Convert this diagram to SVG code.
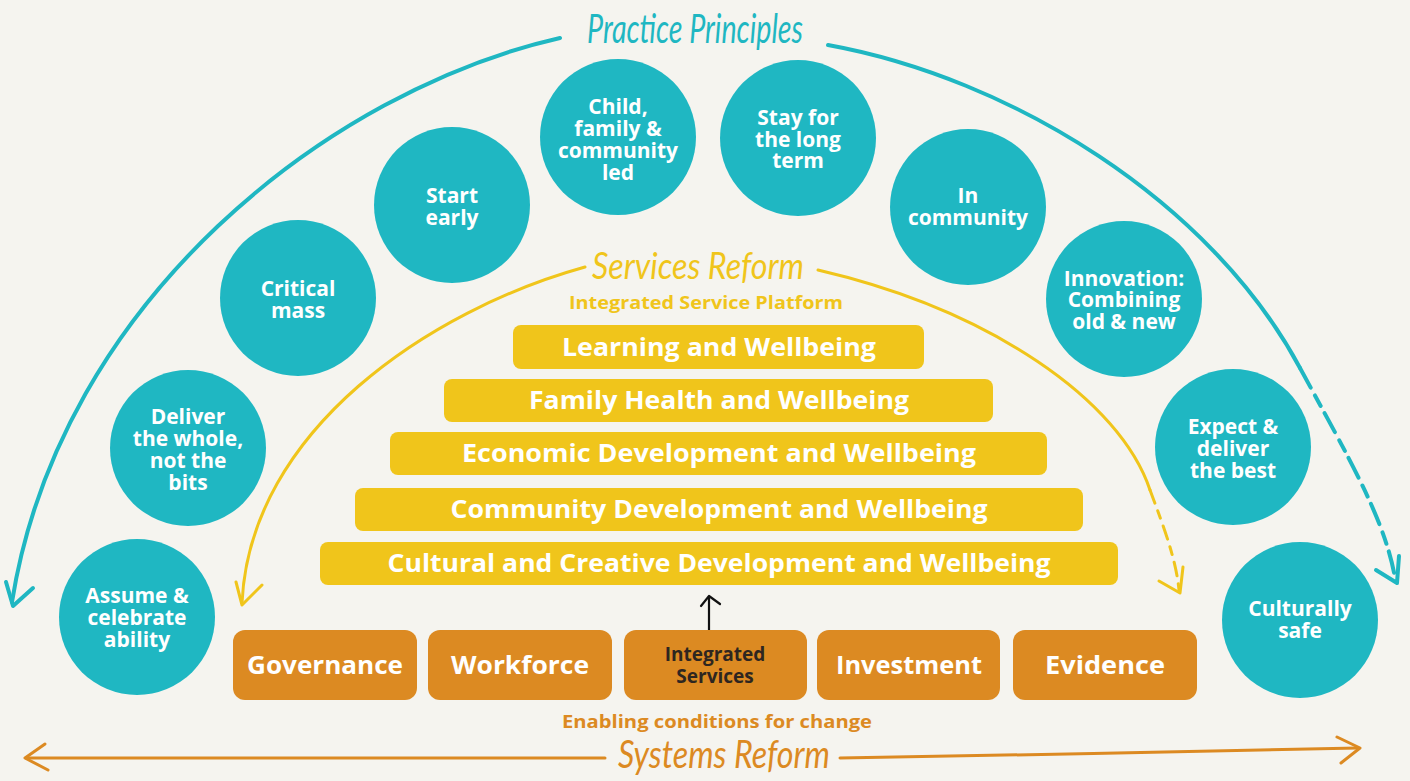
<svg xmlns="http://www.w3.org/2000/svg" width="1410" height="781" viewBox="0 0 1410 781">
  <defs>
    <style>
      .bg { fill: #F5F4EF; }
      .circ { fill: #1FB7C2; }
      .ctext { font-family: "Open Sans", "Liberation Sans", sans-serif; font-weight: 700; font-size: 21px; fill: #FFFFFF; text-anchor: middle; }
      .bar { fill: #F0C51B; }
      .btext { font-family: "Open Sans", "Liberation Sans", sans-serif; font-weight: 700; font-size: 25px; fill: #FFFFFF; text-anchor: middle; }
      .box { fill: #DC8A22; }
      .otext { font-family: "Open Sans", "Liberation Sans", sans-serif; font-weight: 700; font-size: 25px; fill: #FFFFFF; text-anchor: middle; }
      .dtext { font-family: "Open Sans", "Liberation Sans", sans-serif; font-weight: 700; font-size: 19px; fill: #2E2620; text-anchor: middle; }
      .hand { font-family: "Lato", "Open Sans", sans-serif; font-style: italic; font-weight: 400; }
      .sub { font-family: "Open Sans", "Liberation Sans", sans-serif; font-weight: 700; font-size: 18px; text-anchor: middle; }
      .teal { fill: none; stroke: #1FB7C2; stroke-width: 4; stroke-linecap: round; stroke-linejoin: round; }
      .yel { fill: none; stroke: #F0C51B; stroke-width: 3; stroke-linecap: round; stroke-linejoin: round; }
      .org { fill: none; stroke: #DC8A22; stroke-width: 3; stroke-linecap: round; stroke-linejoin: round; }
    </style>
  </defs>

  <rect class="bg" x="0" y="0" width="1410" height="781"/>

  <!-- connectors: hand-drawn arcs and arrows -->
  <g id="connectors">
    <!-- Practice Principles arcs -->
    <path class="teal" d="M560,38 C330,90 60,300 12,602"/>
    <path class="teal" d="M6,582 L13,606 L33,588"/>
    <path class="teal" d="M828,45 C1010,78 1210,200 1300,368"/>
    <path class="teal" d="M1300,368 C1350,460 1385,520 1395,578" stroke-dasharray="22 9 12 8"/>
    <path class="teal" d="M1399,556 L1397,583 L1376,570"/>

    <!-- Services Reform arcs -->
    <path class="yel" d="M585,267 C430,310 250,430 242,603"/>
    <path class="yel" d="M236,582 L242,605 L262,585"/>
    <path class="yel" d="M818,270 C990,310 1120,400 1150,490"/>
    <path class="yel" d="M1150,490 C1165,530 1176,560 1179,590" stroke-dasharray="14 8 8 8"/>
    <path class="yel" d="M1183,567 L1180,593 L1159,581"/>

    <!-- Systems Reform double arrow -->
    <path class="org" d="M26,758 L605,758"/>
    <path class="org" d="M45,744 L25,758 L48,770"/>
    <path class="org" d="M840,758 C1000,756 1200,751 1358,748"/>
    <path class="org" d="M1337,737 L1360,748 L1341,763"/>

    <!-- arrow from Integrated Services to the platform -->
    <path d="M709,636 L709,598" fill="none" stroke="#111111" stroke-width="2.2" stroke-linecap="round"/>
    <path d="M701,606 L709,596 L720,604" fill="none" stroke="#111111" stroke-width="2.2" stroke-linecap="round" stroke-linejoin="round"/>
  </g>

  <!-- headings -->
  <g id="titles">
    <text class="hand" x="695" y="43" font-size="40" fill="#1FB7C2" text-anchor="middle" textLength="216" lengthAdjust="spacingAndGlyphs">Practice Principles</text>
    <text class="hand" x="698" y="279" font-size="36" fill="#F0C51B" text-anchor="middle" textLength="212" lengthAdjust="spacingAndGlyphs">Services Reform</text>
    <text class="sub" x="706" y="309" fill="#F0C51B" textLength="274" lengthAdjust="spacingAndGlyphs">Integrated Service Platform</text>
    <text class="sub" x="717" y="728" fill="#DC8A22" textLength="310" lengthAdjust="spacingAndGlyphs">Enabling conditions for change</text>
    <text class="hand" x="724" y="768" font-size="38" fill="#DC8A22" text-anchor="middle" textLength="212" lengthAdjust="spacingAndGlyphs">Systems Reform</text>
  </g>

  <!-- practice principle nodes -->
  <g id="p-ability">
    <circle class="circ" cx="137" cy="617" r="78"/>
    <text class="ctext" x="137" y="603">Assume &amp;</text>
    <text class="ctext" x="137" y="625">celebrate</text>
    <text class="ctext" x="137" y="647">ability</text>
  </g>
  <g id="p-whole">
    <circle class="circ" cx="188" cy="448" r="78"/>
    <text class="ctext" x="188" y="424">Deliver</text>
    <text class="ctext" x="188" y="446">the whole,</text>
    <text class="ctext" x="188" y="468">not the</text>
    <text class="ctext" x="188" y="490">bits</text>
  </g>
  <g id="p-mass">
    <circle class="circ" cx="298" cy="298" r="78"/>
    <text class="ctext" x="298" y="296">Critical</text>
    <text class="ctext" x="298" y="318">mass</text>
  </g>
  <g id="p-early">
    <circle class="circ" cx="452" cy="205" r="78"/>
    <text class="ctext" x="452" y="203">Start</text>
    <text class="ctext" x="452" y="225">early</text>
  </g>
  <g id="p-led">
    <circle class="circ" cx="618" cy="137" r="78"/>
    <text class="ctext" x="618" y="114">Child,</text>
    <text class="ctext" x="618" y="136">family &amp;</text>
    <text class="ctext" x="618" y="158">community</text>
    <text class="ctext" x="618" y="180">led</text>
  </g>
  <g id="p-long">
    <circle class="circ" cx="798" cy="138" r="78"/>
    <text class="ctext" x="798" y="125">Stay for</text>
    <text class="ctext" x="798" y="147">the long</text>
    <text class="ctext" x="798" y="168">term</text>
  </g>
  <g id="p-community">
    <circle class="circ" cx="968" cy="207" r="78"/>
    <text class="ctext" x="968" y="203">In</text>
    <text class="ctext" x="968" y="225">community</text>
  </g>
  <g id="p-innovation">
    <circle class="circ" cx="1124" cy="299" r="78"/>
    <text class="ctext" x="1124" y="286">Innovation:</text>
    <text class="ctext" x="1124" y="307">Combining</text>
    <text class="ctext" x="1124" y="329">old &amp; new</text>
  </g>
  <g id="p-best">
    <circle class="circ" cx="1233" cy="447" r="78"/>
    <text class="ctext" x="1233" y="434">Expect &amp;</text>
    <text class="ctext" x="1233" y="456">deliver</text>
    <text class="ctext" x="1233" y="478">the best</text>
  </g>
  <g id="p-safe">
    <circle class="circ" cx="1300" cy="620" r="78"/>
    <text class="ctext" x="1300" y="616">Culturally</text>
    <text class="ctext" x="1300" y="638">safe</text>
  </g>

  <!-- integrated service platform -->
  <g id="s-learning">
    <rect class="bar" x="513" y="325" width="411" height="44" rx="8"/>
    <text class="btext" x="719" y="356" textLength="314" lengthAdjust="spacingAndGlyphs">Learning and Wellbeing</text>
  </g>
  <g id="s-family">
    <rect class="bar" x="444" y="379" width="549" height="43" rx="8"/>
    <text class="btext" x="719" y="409" textLength="380" lengthAdjust="spacingAndGlyphs">Family Health and Wellbeing</text>
  </g>
  <g id="s-economic">
    <rect class="bar" x="390" y="432" width="657" height="43" rx="8"/>
    <text class="btext" x="719" y="462" textLength="514" lengthAdjust="spacingAndGlyphs">Economic Development and Wellbeing</text>
  </g>
  <g id="s-community">
    <rect class="bar" x="355" y="488" width="728" height="43" rx="8"/>
    <text class="btext" x="719" y="518" textLength="537" lengthAdjust="spacingAndGlyphs">Community Development and Wellbeing</text>
  </g>
  <g id="s-cultural">
    <rect class="bar" x="320" y="542" width="798" height="43" rx="8"/>
    <text class="btext" x="719" y="572" textLength="663" lengthAdjust="spacingAndGlyphs">Cultural and Creative Development and Wellbeing</text>
  </g>

  <!-- enabling conditions -->
  <g id="e-governance">
    <rect class="box" x="233" y="630" width="184" height="70" rx="12"/>
    <text class="otext" x="325" y="674" textLength="156" lengthAdjust="spacingAndGlyphs">Governance</text>
  </g>
  <g id="e-workforce">
    <rect class="box" x="428" y="630" width="184" height="70" rx="12"/>
    <text class="otext" x="520" y="674" textLength="138" lengthAdjust="spacingAndGlyphs">Workforce</text>
  </g>
  <g id="e-integrated">
    <rect class="box" x="624" y="630" width="183" height="70" rx="12"/>
    <text class="dtext" x="715" y="661">Integrated</text>
    <text class="dtext" x="715" y="683">Services</text>
  </g>
  <g id="e-investment">
    <rect class="box" x="817" y="630" width="183" height="70" rx="12"/>
    <text class="otext" x="909" y="674" textLength="146" lengthAdjust="spacingAndGlyphs">Investment</text>
  </g>
  <g id="e-evidence">
    <rect class="box" x="1013" y="630" width="184" height="70" rx="12"/>
    <text class="otext" x="1105" y="674" textLength="120" lengthAdjust="spacingAndGlyphs">Evidence</text>
  </g>
</svg>
